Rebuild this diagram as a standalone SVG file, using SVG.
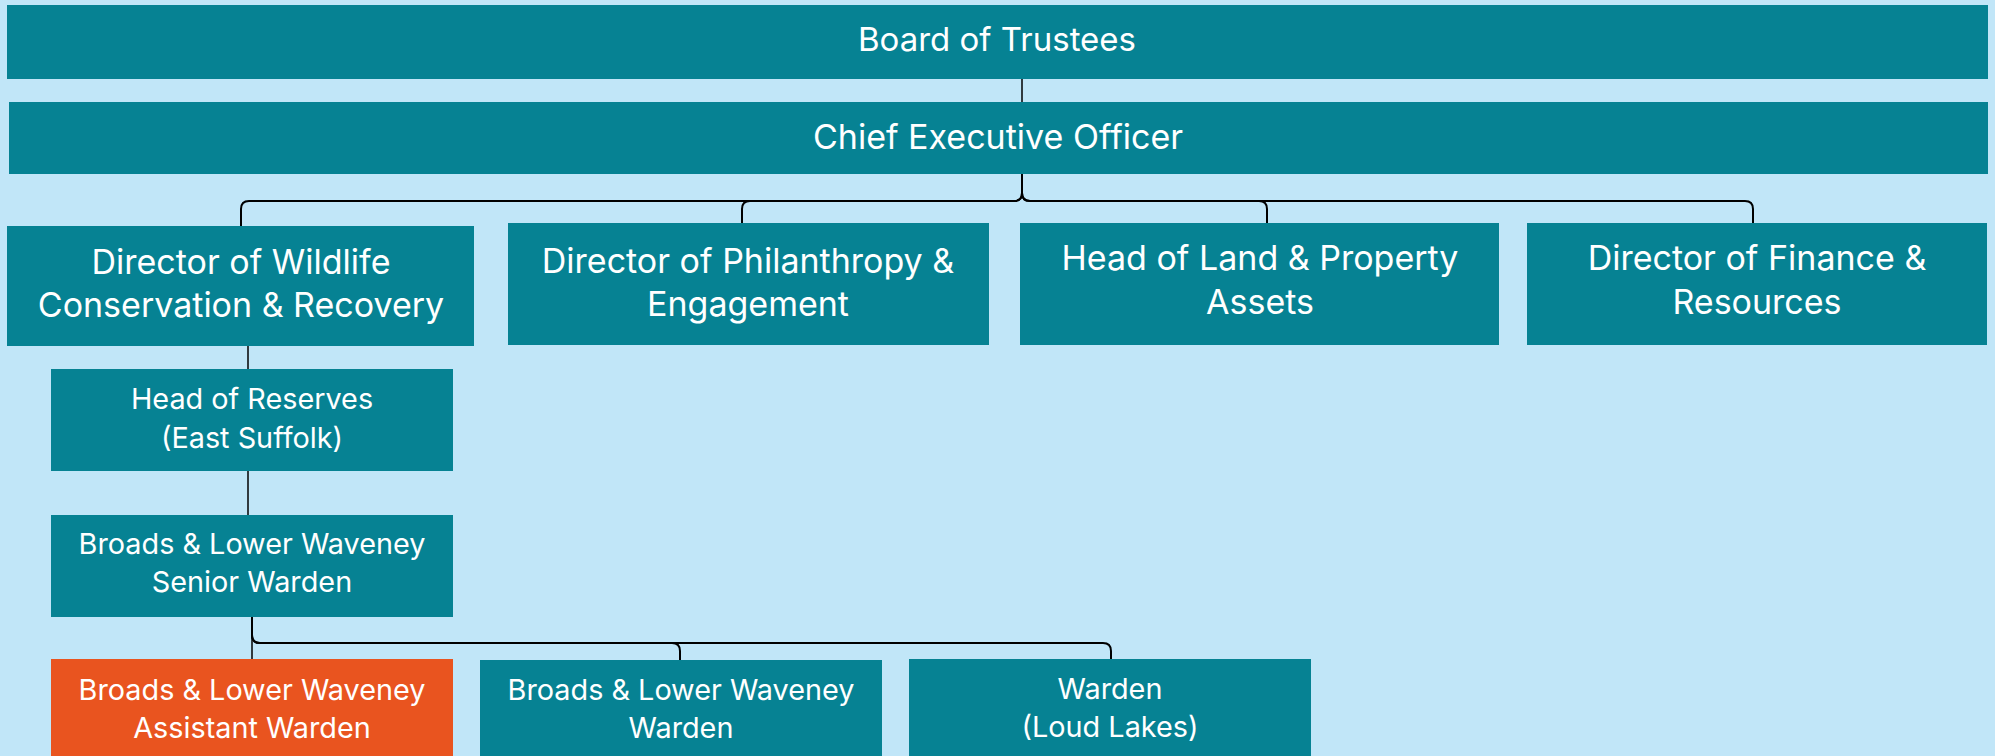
<svg xmlns="http://www.w3.org/2000/svg" width="1995" height="756" viewBox="0 0 1995 756">
<style>
.bg{fill:#C1E6F8}
.box{fill:#068293}
.hl{fill:#E9541F}
text{font-family:Inter,"Liberation Sans",sans-serif;fill:#FFFFFF;text-anchor:middle}
.t1{font-size:33px}
.t2{font-size:34px}
.t3{font-size:28.8px}
.c{fill:none;stroke:#000000;stroke-width:2}
.s{fill:none;stroke:#000000;stroke-width:1.5}
</style>
<rect class="bg" x="0" y="0" width="1995" height="756"/>
<g id="connectors">
<path class="s" d="M1022,79 V102"/>
<path class="c" d="M1022,174 V193 Q1022,201 1014,201 H249 Q241,201 241,209 V226"/>
<path class="c" d="M1022,193 Q1022,201 1014,201 H750 Q742,201 742,209 V223"/>
<path class="c" d="M1022,193 Q1022,201 1030,201 H1259 Q1267,201 1267,209 V223"/>
<path class="c" d="M1022,193 Q1022,201 1030,201 H1745 Q1753,201 1753,209 V223"/>
<path class="s" d="M248,346 V369"/>
<path class="s" d="M248,471 V515"/>
<path class="s" d="M252,617 V659"/>
<path class="c" d="M252,617 V635 Q252,643 260,643 H672 Q680,643 680,651 V660"/>
<path class="c" d="M252,635 Q252,643 260,643 H1103 Q1111,643 1111,651 V659"/>
</g>
<g id="board">
<rect class="box" x="7" y="5" width="1981" height="74"/>
<text class="t1" x="997" y="51">Board of Trustees</text>
</g>
<g id="ceo">
<rect class="box" x="9" y="102" width="1979" height="72"/>
<text class="t2" x="998" y="149">Chief Executive Officer</text>
</g>
<g id="dir-wildlife">
<rect class="box" x="7" y="226" width="467" height="120"/>
<text class="t2" x="241" y="274">Director of Wildlife</text>
<text class="t2" x="241" y="317">Conservation &amp; Recovery</text>
</g>
<g id="dir-philanthropy">
<rect class="box" x="508" y="223" width="481" height="122"/>
<text class="t2" x="748" y="273">Director of Philanthropy &amp;</text>
<text class="t2" x="748" y="316">Engagement</text>
</g>
<g id="head-land">
<rect class="box" x="1020" y="223" width="479" height="122"/>
<text class="t2" x="1260" y="270">Head of Land &amp; Property</text>
<text class="t2" x="1260" y="314">Assets</text>
</g>
<g id="dir-finance">
<rect class="box" x="1527" y="223" width="460" height="122"/>
<text class="t2" x="1757" y="270">Director of Finance &amp;</text>
<text class="t2" x="1757" y="314">Resources</text>
</g>
<g id="head-reserves">
<rect class="box" x="51" y="369" width="402" height="102"/>
<text class="t3" x="252" y="409">Head of Reserves</text>
<text class="t3" x="252" y="448">(East Suffolk)</text>
</g>
<g id="senior-warden">
<rect class="box" x="51" y="515" width="402" height="102"/>
<text class="t3" x="252" y="554">Broads &amp; Lower Waveney</text>
<text class="t3" x="252" y="592">Senior Warden</text>
</g>
<g id="assistant-warden">
<rect class="hl" x="51" y="659" width="402" height="102"/>
<text class="t3" x="252" y="700">Broads &amp; Lower Waveney</text>
<text class="t3" x="252" y="738">Assistant Warden</text>
</g>
<g id="blw-warden">
<rect class="box" x="480" y="660" width="402" height="102"/>
<text class="t3" x="681" y="700">Broads &amp; Lower Waveney</text>
<text class="t3" x="681" y="738">Warden</text>
</g>
<g id="loud-lakes-warden">
<rect class="box" x="909" y="659" width="402" height="102"/>
<text class="t3" x="1110" y="699">Warden</text>
<text class="t3" x="1110" y="737">(Loud Lakes)</text>
</g>
</svg>
